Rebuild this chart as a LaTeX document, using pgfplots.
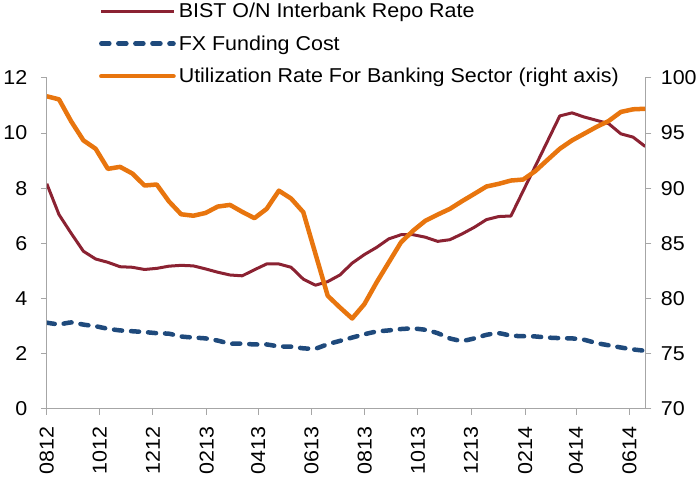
\documentclass[border=0pt]{standalone}
\usepackage{pgfplots}
\pgfplotsset{compat=1.18}
\usepackage{fontspec}
\setmainfont[FakeStretch=1.07]{Liberation Sans}
\definecolor{repo}{HTML}{8B2232}
\definecolor{fx}{HTML}{1F4A7C}
\definecolor{util}{HTML}{E8750E}
\definecolor{axgray}{HTML}{A6A6A6}
\pgfplotstableread{
i repo fx util
0 8.16 3.12 98.33
1 7.04 3.06 98.05
2 6.36 3.13 96.05
3 5.71 3.05 94.33
4 5.43 2.99 93.57
5 5.31 2.90 91.75
6 5.15 2.84 91.93
7 5.13 2.81 91.33
8 5.05 2.78 90.24
9 5.09 2.74 90.33
10 5.17 2.72 88.80
11 5.20 2.62 87.63
12 5.18 2.58 87.50
13 5.07 2.55 87.75
14 4.95 2.47 88.33
15 4.85 2.36 88.48
16 4.82 2.36 87.85
17 5.04 2.33 87.28
18 5.25 2.33 88.12
19 5.25 2.26 89.77
20 5.13 2.25 89.06
21 4.70 2.19 87.82
22 4.48 2.18 84.03
23 4.61 2.34 80.24
24 4.85 2.46 79.18
25 5.28 2.58 78.18
26 5.59 2.70 79.48
27 5.85 2.80 81.45
28 6.16 2.84 83.27
29 6.31 2.89 85.09
30 6.31 2.91 86.15
31 6.22 2.86 87.05
32 6.07 2.74 87.60
33 6.13 2.55 88.12
34 6.34 2.46 88.82
35 6.58 2.55 89.48
36 6.86 2.68 90.15
37 6.97 2.74 90.39
38 6.99 2.65 90.69
39 7.90 2.63 90.78
40 8.80 2.62 91.55
41 9.71 2.58 92.57
42 10.62 2.56 93.57
43 10.73 2.55 94.33
44 10.58 2.50 94.94
45 10.46 2.38 95.55
46 10.34 2.30 96.09
47 9.97 2.22 96.91
48 9.85 2.15 97.15
49 9.51 2.10 97.20
}\datatable
\newcommand{\lblfont}{\fontsize{20}{24}\selectfont}
\begin{document}
\begin{tikzpicture}
\pgfplotsset{
  common/.style={
    scale only axis, width=597pt, height=330pt,
    xmin=0, xmax=49,
    tick align=outside, major tick length=6pt,
    tick style={axgray, line width=0.8pt},
    axis line style={axgray, line width=1pt, -},
    every tick label/.append style={font=\lblfont, text=black},
    /pgf/number format/assume math mode=true,
  }
}
\begin{axis}[common,
  axis x line*=bottom, axis y line*=left,
  ymin=0, ymax=12, ytick={0,2,...,12},
  xtick={0,4.33,8.68,13.09,17.32,21.68,26.02,30.38,34.73,39.16,43.33,47.70},
  xticklabels={0812,1012,1212,0213,0413,0613,0813,1013,1213,0214,0414,0614},
  xticklabel style={rotate=90, anchor=east, xshift=-8pt},
  yticklabel style={xshift=-10pt},
  legend style={draw=none, fill=none, font=\lblfont,
    at={(axis description cs:0.087,1.236)}, anchor=north west,
    inner sep=0pt, row sep=10.5pt,
    nodes={inner sep=3pt}},
  legend cell align=left,
  legend image code/.code={\draw[#1] (0pt,0pt) -- (72pt,0pt);},
]
\addplot[repo, line width=3pt, line join=round] table[x=i, y=repo] {\datatable};
\addlegendentry{BIST O/N Interbank Repo Rate}
\addplot[fx, line width=4.5pt, line cap=round, dash pattern=on 8pt off 9pt, smooth, tension=0.3] table[x=i, y=fx] {\datatable};
\addlegendentry{FX Funding Cost}
\addlegendimage{util, line width=4.5pt, line cap=round}
\addlegendentry{Utilization Rate For Banking Sector (right axis)}
\end{axis}
\begin{axis}[common,
  axis y line*=right, axis x line=none,
  ymin=70, ymax=100, ytick={70,75,...,100},
  yticklabel style={xshift=6pt},
]
\addplot[util, line width=4.5pt, line join=round] table[x=i, y=util] {\datatable};
\end{axis}
\end{tikzpicture}
\end{document}
